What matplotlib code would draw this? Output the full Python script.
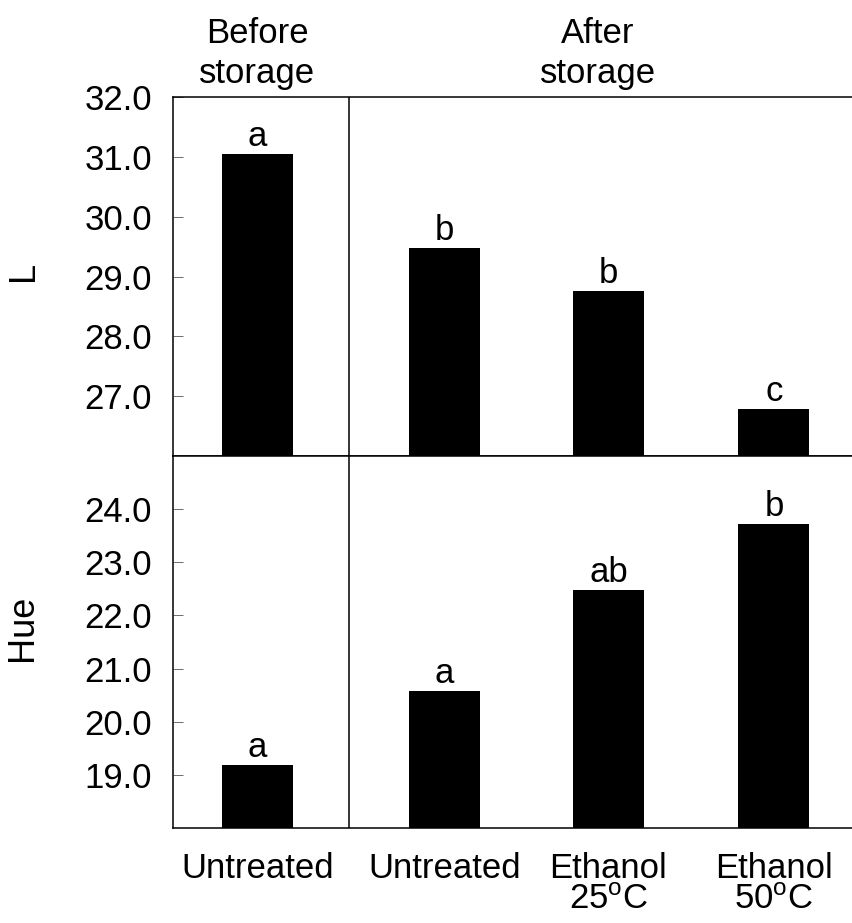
import matplotlib.pyplot as plt

plt.rcParams["font.family"] = ["Liberation Sans", "DejaVu Sans"]
plt.rcParams["mathtext.default"] = "regular"

# data
groups = ["Untreated", "Untreated", "Ethanol\n25$^{o}$C", "Ethanol\n50$^{o}$C"]
l_values = [31.05, 29.47, 28.75, 26.78]
l_letters = ["a", "b", "b", "c"]
hue_values = [19.18, 20.57, 22.47, 23.72]
hue_letters = ["a", "a", "ab", "b"]
l_ticks = [27.0, 28.0, 29.0, 30.0, 31.0, 32.0]
hue_ticks = [19.0, 20.0, 21.0, 22.0, 23.0, 24.0]

# layout (x in units of 100 px)
xpos = [0.845, 2.715, 4.355, 6.01]
bar_w = 0.71
divider = 1.76
fs = 25

fig = plt.figure(figsize=(8.53, 9.23), dpi=100)
ax_l = fig.add_axes([173 / 853, 1 - 456 / 923, 680 / 853, 359 / 923])
ax_h = fig.add_axes([173 / 853, 1 - 828 / 923, 680 / 853, 372 / 923])


def style_panel(ax, values, letters, ylim, ticks):
    ax.bar(xpos, [v - ylim[0] for v in values], width=bar_w, bottom=ylim[0],
           color="black", edgecolor="black", linewidth=0)
    for x, v, t in zip(xpos, values, letters):
        ax.annotate(t, (x, v), xytext=(0, 6), textcoords="offset points",
                    ha="center", va="baseline", fontsize=fs)
    ax.axvline(divider, color="black", linewidth=1.1)
    ax.set_xlim(0, 6.8)
    ax.set_ylim(*ylim)
    ax.set_yticks(ticks)
    ax.set_yticklabels([f"{t:.1f}" for t in ticks])
    ax.tick_params(axis="y", direction="in", length=7, width=0.6,
                   color="#555555", labelsize=fs, pad=15)
    ax.spines["right"].set_visible(False)
    for s in ["left", "top", "bottom"]:
        ax.spines[s].set_linewidth(1.1)


style_panel(ax_l, l_values, l_letters, (26.0, 32.0), l_ticks)
style_panel(ax_h, hue_values, hue_letters, (18.0, 25.0), hue_ticks)

ax_l.set_xticks([])
ax_h.set_xticks(xpos)
ax_h.set_xticklabels(groups, fontsize=fs, linespacing=0.93)
ax_h.tick_params(axis="x", length=0, pad=17)

ax_l.text(0.845, 1.02, "Before\nstorage", transform=ax_l.get_xaxis_transform(),
          ha="center", va="bottom", fontsize=fs, linespacing=1.27)
ax_l.text(4.25, 1.02, "After\nstorage", transform=ax_l.get_xaxis_transform(),
          ha="center", va="bottom", fontsize=fs, linespacing=1.27)

fig.text(23 / 853, 1 - 271 / 923, "L", rotation=90, ha="center", va="center",
         fontsize=fs + 1)
fig.text(23 / 853, 1 - 628 / 923, "Hue", rotation=90, ha="center", va="center",
         fontsize=fs + 1)

fig.savefig("out.png", dpi=100)
